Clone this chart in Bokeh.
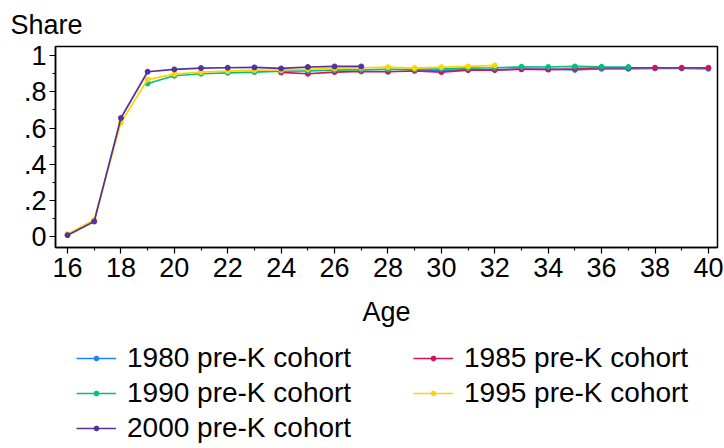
from bokeh.plotting import figure
from bokeh.models import FixedTicker, Legend, LegendItem, Range1d
from bokeh.layouts import column
from bokeh.embed import file_html
from bokeh.resources import INLINE

# ---- data ----
ages_1980 = list(range(29, 41))
share_1980 = [0.920, 0.918, 0.922, 0.922, 0.924, 0.924, 0.920, 0.926, 0.926, 0.928, 0.928, 0.926]

ages_1985 = list(range(24, 41))
share_1985 = [0.906, 0.899, 0.908, 0.912, 0.910, 0.915, 0.908, 0.919, 0.919, 0.924, 0.922,
              0.926, 0.932, 0.932, 0.932, 0.932, 0.932]

ages_1990 = list(range(19, 38))
share_1990 = [0.845, 0.888, 0.899, 0.904, 0.908, 0.913, 0.915, 0.919, 0.921, 0.923, 0.923,
              0.926, 0.930, 0.932, 0.937, 0.936, 0.939, 0.937, 0.936]

ages_1995 = list(range(16, 33))
share_1995 = [0.015, 0.095, 0.630, 0.867, 0.897, 0.908, 0.913, 0.919, 0.920, 0.925, 0.928,
              0.932, 0.935, 0.930, 0.935, 0.939, 0.945]

ages_2000 = list(range(16, 28))
share_2000 = [0.010, 0.085, 0.655, 0.910, 0.923, 0.930, 0.932, 0.934, 0.928, 0.936, 0.939, 0.939]

labels = ["1980 pre-K cohort", "1985 pre-K cohort", "1990 pre-K cohort",
          "1995 pre-K cohort", "2000 pre-K cohort"]
colors = ["#1A85FF", "#D41159", "#00BF7F", "#FFD400", "#55309F"]

x_ticks = list(range(16, 41, 2))
x_minor = list(range(17, 40, 2))
y_ticks = [0, 0.2, 0.4, 0.6, 0.8, 1]
y_tick_labels = ["0", ".2", ".4", ".6", ".8", "1"]
y_minor = [0.1, 0.3, 0.5, 0.7, 0.9]

FONT = "Liberation Sans"
FS = "27px"

p = figure(frame_width=662, frame_height=201, output_backend="svg", toolbar_location=None,
           x_range=Range1d(15.55, 40.34), y_range=Range1d(-0.058, 1.049),
           min_border_left=55, min_border_right=7, min_border_top=46, min_border_bottom=93)
p.background_fill_color = "white"
p.border_fill_color = "white"
p.outline_line_color = "black"
p.outline_line_width = 1.5
p.grid.visible = False

p.title.text = "Share"
p.title.align = "left"
p.title.offset = -45
p.title.text_font = FONT
p.title.text_font_size = FS
p.title.text_font_style = "normal"
p.title.text_color = "black"
p.title.standoff = 14

for ax in (p.xaxis[0], p.yaxis[0]):
    ax.major_label_text_font = FONT
    ax.major_label_text_font_size = FS
    ax.major_label_text_color = "black"
    ax.axis_line_color = "black"
    ax.axis_line_width = 1.5
    ax.major_tick_line_color = "black"
    ax.minor_tick_line_color = "black"
    ax.major_tick_line_width = 1.2
    ax.minor_tick_line_width = 1.2
    ax.major_tick_in = 0
    ax.major_tick_out = 6
    ax.minor_tick_in = 0
    ax.minor_tick_out = 3

p.xaxis.ticker = FixedTicker(ticks=x_ticks, minor_ticks=x_minor)
p.yaxis.ticker = FixedTicker(ticks=y_ticks, minor_ticks=y_minor)
p.yaxis.major_label_overrides = {t: s for t, s in zip(y_ticks, y_tick_labels)}
p.yaxis.major_label_orientation = "horizontal"
p.yaxis.major_label_standoff = 3
p.xaxis.major_label_standoff = 4
p.xaxis.axis_label = "Age"
p.xaxis.axis_label_text_font = FONT
p.xaxis.axis_label_text_font_size = FS
p.xaxis.axis_label_text_font_style = "normal"
p.xaxis.axis_label_text_color = "black"
p.xaxis.axis_label_standoff = 17

series = [(ages_1980, share_1980), (ages_1985, share_1985), (ages_1990, share_1990),
          (ages_1995, share_1995), (ages_2000, share_2000)]
for (xs, ys), col in zip(series, colors):
    p.line(xs, ys, line_color=col, line_width=1.7)
    p.scatter(xs, ys, marker="circle", size=5, fill_color=col, line_color=col)

# ---- legend panel (separate figure below the chart) ----
# Its ranges lie far from the data, so the series drawn here stay hidden;
# they only provide the legend's line-and-marker swatches.
leg = figure(width=724, height=108, output_backend="svg", toolbar_location=None,
             x_range=Range1d(1000, 1724), y_range=Range1d(1000, 1108),
             x_axis_location=None, y_axis_location=None,
             min_border=0, outline_line_color=None)
leg.grid.visible = False
item_map = {}
for (xs, ys), lab, col in zip(series, labels, colors):
    r1 = leg.line(xs, ys, line_color=col, line_width=1.7)
    r2 = leg.scatter(xs, ys, marker="circle", size=5, fill_color=col, line_color=col)
    item_map[lab] = LegendItem(label=lab, renderers=[r1, r2])

# column-major fill with 3 rows -> rows read: 1980 | 1985, 1990 | 1995, 2000
order = [labels[0], labels[2], labels[4], labels[1], labels[3]]
legend = Legend(items=[item_map[k] for k in order], ncols=2, location=(21, 4),
                label_text_font=FONT, label_text_font_size="28px", label_text_color="black",
                glyph_width=40, glyph_height=12, label_height=32, label_standoff=11,
                label_width=283, spacing=3, padding=0, margin=0,
                border_line_color=None, background_fill_alpha=0)
leg.add_layout(legend, "center")

layout = column(p, leg, spacing=0)
open("out.html", "w").write(file_html(layout, INLINE))
